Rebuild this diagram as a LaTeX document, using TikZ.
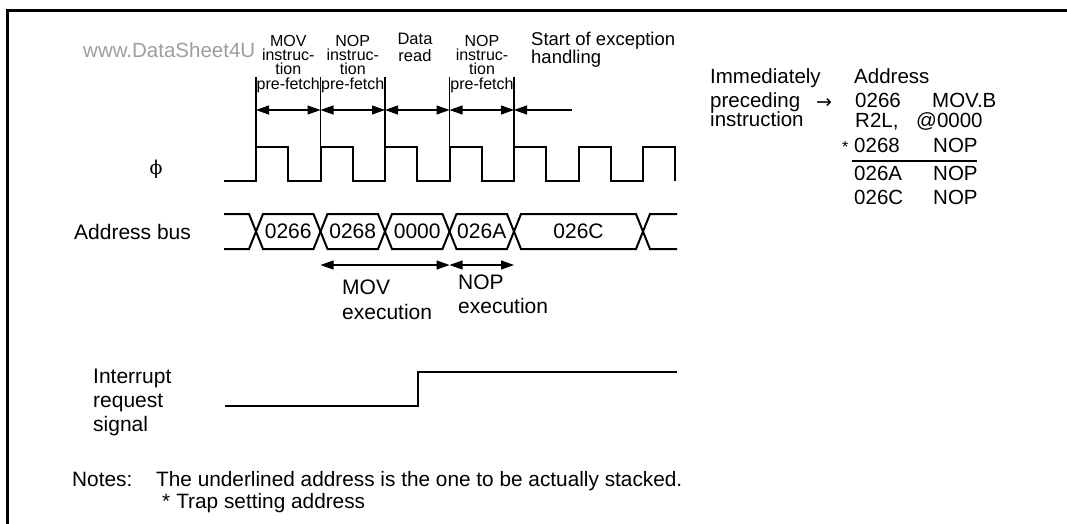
\documentclass[tikz,border=0pt]{standalone}
\usepackage{fontspec}
\setmainfont{Liberation Sans}
\newfontfamily\dvserif{DejaVu Serif}
\newfontfamily\dvsans{DejaVu Sans}
\usetikzlibrary{arrows.meta}
\begin{document}
\begin{tikzpicture}[x=1pt,y=-1pt,
  sig/.style={line width=2pt, line join=miter},
  thinl/.style={line width=1.1pt},
  tipboth/.style={thinl,{Triangle[length=13pt,width=9pt]}-{Triangle[length=13pt,width=9pt]}},
  tipleft/.style={thinl,{Triangle[length=13pt,width=9pt]}-},
  lbl/.style={inner sep=0pt, anchor=base west, font=\fontsize{21}{25}\selectfont},
  rb/.style={inner sep=0pt, anchor=base west, font=\fontsize{20.5}{24}\selectfont},
  col/.style={inner sep=0pt, align=center, anchor=north, font=\fontsize{16}{14.3}\selectfont},
  box/.style={inner sep=0pt, font=\fontsize{21}{25}\selectfont}
]
\useasboundingbox (0,0) rectangle (1067,524);
\fill[white] (0,0) rectangle (1067,524);
% frame
\draw[line width=3pt] (7,524) -- (7,11) -- (1067,11);
% watermark
\node[inner sep=0pt, anchor=base west, text=black!38, font=\fontsize{20.5}{24}\selectfont] (wm) at (83,58) {www.DataSheet4U};
% column labels
\node[col] (c1) at (288.25,35) {MOV\\instruc-\\tion\\pre-fetch};
\node[col] (c2) at (352.75,35) {NOP\\instruc-\\tion\\pre-fetch};
\node[col, font=\fontsize{16.5}{17}\selectfont] (c3) at (415,33) {Data\\read};
\node[col] (c4) at (482,35) {NOP\\instruc-\\tion\\pre-fetch};
\node[inner sep=0pt, align=left, anchor=north west, font=\fontsize{18.5}{18}\selectfont] (c5) at (531,32) {Start of exception\\handling};
% dividers
\foreach \i/\x in {1/256,2/320.5,3/385,4/449.5,5/514}{
  \coordinate (d\i a) at (\x,77);
  \coordinate (d\i b) at (\x,147);
  \coordinate (d\i m) at (\x,110);
  \draw[thinl] (d\i a) -- (d\i b);
}
\coordinate (d6m) at (572,110);
\draw[tipboth] (d1m) -- (d2m);
\draw[tipboth] (d2m) -- (d3m);
\draw[tipboth] (d3m) -- (d4m);
\draw[tipboth] (d4m) -- (d5m);
\draw[tipleft] (d5m) -- (d6m);
% clock
\node[inner sep=0pt, font=\dvserif\fontsize{19}{22}\selectfont] (phi) at (156,169) {ϕ};
\draw[sig] (224,181)
  \foreach \r in {256,320.5,385,449.5,514,578.5,643}{
    -- (\r,181) -- (\r,147) -- ({\r+32.25},147) -- ({\r+32.25},181)
  };
% address bus
\node[lbl, anchor=west] (ab) at (74,231.5) {Address bus};
\def\h{7}
\draw[sig] (224,214) -- (249,214) -- (256,231.5) -- (249,249) -- (224,249);
\foreach \a/\b in {256/320.5,320.5/385,385/449.5,449.5/514,514/643}{
  \draw[sig] (\a,231.5) -- ({\a+\h},214) -- ({\b-\h},214) -- (\b,231.5) -- ({\b-\h},249) -- ({\a+\h},249) -- cycle;
}
\draw[sig] (677,214) -- (650,214) -- (643,231.5) -- (650,249) -- (677,249);
\node[box] (a1) at (288.25,231.5) {0266};
\node[box] (a2) at (352.75,231.5) {0268};
\node[box] (a3) at (417.25,231.5) {0000};
\node[box] (a4) at (481.75,231.5) {026A};
\node[box] (a5) at (578.5,231.5) {026C};
% execution arrows
\coordinate (m1) at (320.5,265);
\coordinate (m2) at (449.5,265);
\coordinate (m3) at (514,265);
\draw[tipboth] (m1) -- (m2);
\draw[tipboth] (m2) -- (m3);
\node[lbl] (mov1) at (342,294) {MOV};
\node[lbl] (mov2) at (342,319) {execution};
\node[lbl] (nop1) at (458,289) {NOP};
\node[lbl] (nop2) at (458,313) {execution};
% interrupt
\node[lbl] (ir1) at (93,383) {Interrupt};
\node[lbl] (ir2) at (93,407) {request};
\node[lbl] (ir3) at (93,431) {signal};
\draw[sig] (225,406) -- (418,406) -- (418,372) -- (677,372);
% right block
\node[rb] (imm1) at (710,84) {Immediately};
\node[rb] (imm2) at (710,107) {preceding};
\node[rb] (imm3) at (710,127) {instruction};
\node[inner sep=0pt, font=\dvsans\fontsize{19}{19}\selectfont] (arr) at (824,103) {→};
\node[rb] (hd) at (854,84) {Address};
\node[rb] (r1a) at (855,107) {0266};
\node[rb] (r1b) at (932,107) {MOV.B};
\node[rb] (r2a) at (855,128) {R2L,};
\node[rb] (r2b) at (916,128) {@0000};
\node[inner sep=0pt, anchor=base west, font=\fontsize{16}{16}\selectfont] (ast) at (842,152) {*};
\node[rb] (r3a) at (854,152.5) {0268};
\node[rb] (r3b) at (933,152.5) {NOP};
\draw[line width=1.3pt] (852,161) -- (977,161);
\node[rb] (r4a) at (854,180) {026A};
\node[rb] (r4b) at (933,180) {NOP};
\node[rb] (r5a) at (854,204) {026C};
\node[rb] (r5b) at (933,204) {NOP};
% notes
\node[lbl, font=\fontsize{20.8}{24}\selectfont] (n1) at (72,486) {Notes:};
\node[lbl, font=\fontsize{20.8}{24}\selectfont] (n2) at (156,486) {The underlined address is the one to be actually stacked.};
\node[lbl, font=\fontsize{20.8}{24}\selectfont] (n3) at (162,508) {*\hspace{6pt}Trap setting address};
\end{tikzpicture}
\end{document}
